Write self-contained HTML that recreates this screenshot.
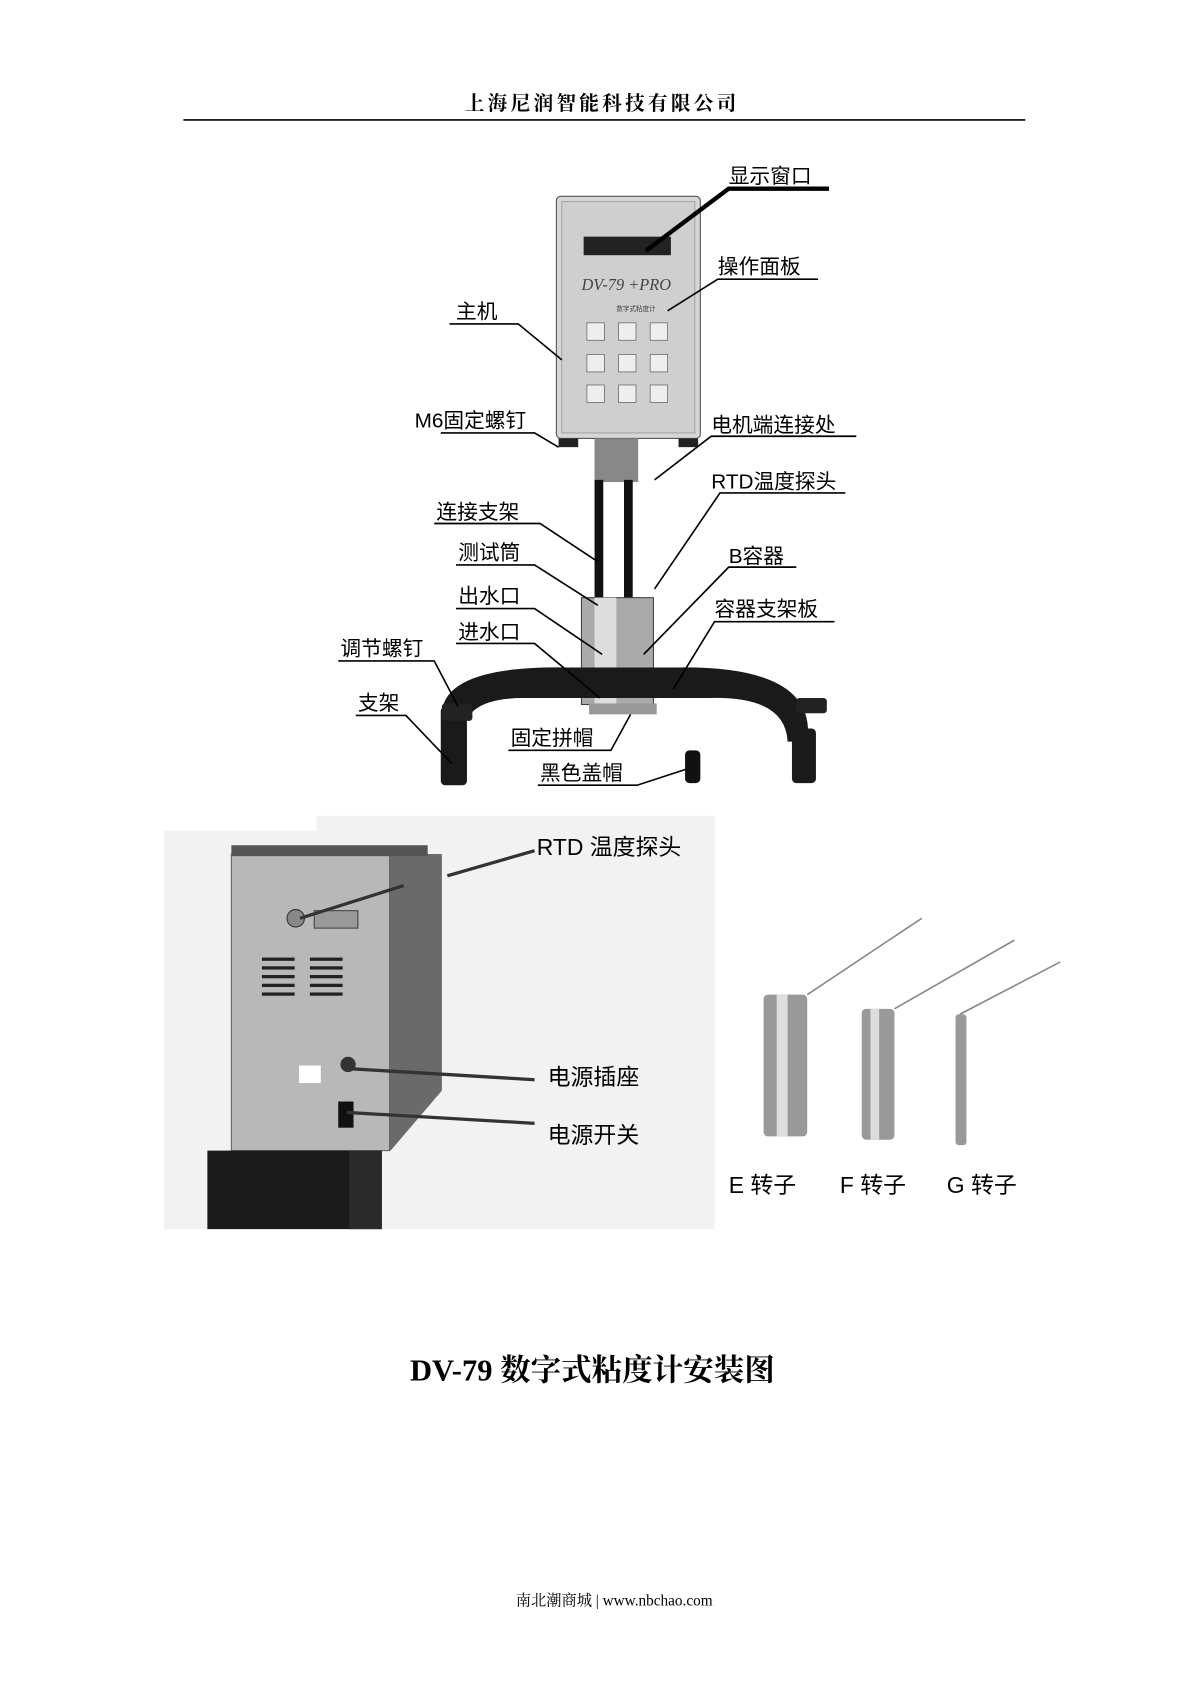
<!DOCTYPE html>
<html><head><meta charset="utf-8"><style>
html,body{margin:0;padding:0;background:#fff;}
svg{display:block;}
text{font-family:"Liberation Sans","Noto Sans CJK SC",sans-serif;}
.s{font-family:"Liberation Serif","Noto Serif CJK SC",serif;}
</style></head><body>
<svg width="1200" height="1697" viewBox="0 0 1100 1556" xmlns="http://www.w3.org/2000/svg">
<rect width="1100" height="1556" fill="#fff"/>
<text x="552" y="101" text-anchor="middle" font-size="18" font-weight="bold" letter-spacing="3" class="s">上海尼润智能科技有限公司</text>
<line x1="168" y1="110" x2="940" y2="110" stroke="#000" stroke-width="1.5"/>

<!-- main device -->
<rect x="510" y="180" width="132" height="222" rx="4" fill="#d6d6d6" stroke="#555"/>
<rect x="515" y="185" width="122" height="212" fill="#cfcfcf" stroke="#888" stroke-width="0.6"/>
<rect x="535" y="217" width="80" height="17" fill="#222"/>
<text x="533" y="266" font-size="15" font-style="italic" fill="#444" class="s">DV-79 +PRO</text>
<text x="565" y="285" font-size="6" fill="#444">数字式粘度计</text>
<g fill="#eee" stroke="#666" stroke-width="0.7">
<rect x="538" y="296" width="16" height="16"/><rect x="567" y="296" width="16" height="16"/><rect x="596" y="296" width="16" height="16"/>
<rect x="538" y="325" width="16" height="16"/><rect x="567" y="325" width="16" height="16"/><rect x="596" y="325" width="16" height="16"/>
<rect x="538" y="353" width="16" height="16"/><rect x="567" y="353" width="16" height="16"/><rect x="596" y="353" width="16" height="16"/>
</g>
<rect x="512" y="402" width="18" height="8" fill="#222"/><rect x="622" y="402" width="18" height="8" fill="#222"/>
<rect x="545" y="402" width="40" height="40" fill="#888"/>
<rect x="545" y="440" width="8" height="112" fill="#111"/><rect x="572" y="440" width="8" height="112" fill="#111"/>
<rect x="533" y="548" width="66" height="98" fill="#aaa" stroke="#444"/>
<rect x="545" y="548" width="20" height="98" fill="#ddd"/>
<path d="M405 660 Q400 610 520 612 L620 612 Q750 610 740 680 L722 680 Q720 638 650 640 L480 640 Q420 640 425 680 Z" fill="#1a1a1a"/>
<rect x="404" y="648" width="24" height="72" rx="4" fill="#1a1a1a"/>
<rect x="726" y="668" width="22" height="50" rx="4" fill="#1a1a1a"/>
<rect x="730" y="640" width="28" height="14" rx="3" fill="#222"/>
<rect x="405" y="645" width="28" height="16" rx="3" fill="#222"/>
<rect x="628" y="688" width="14" height="30" rx="4" fill="#111"/>
<rect x="540" y="645" width="62" height="10" fill="#999"/>

<g font-size="19" fill="#000">
<text x="668" y="168">显示窗口</text>
<text x="658" y="251">操作面板</text>
<text x="418" y="292">主机</text>
<text x="380" y="392">M6固定螺钉</text>
<text x="652" y="396">电机端连接处</text>
<text x="652" y="448">RTD温度探头</text>
<text x="400" y="476">连接支架</text>
<text x="420" y="513">测试筒</text>
<text x="668" y="516">B容器</text>
<text x="420" y="553">出水口</text>
<text x="655" y="565">容器支架板</text>
<text x="420" y="586">进水口</text>
<text x="312" y="601">调节螺钉</text>
<text x="328" y="651">支架</text>
<text x="468" y="683">固定拼帽</text>
<text x="495" y="715">黑色盖帽</text>
</g>
<g stroke="#000" stroke-width="1.5" fill="none">
<polyline points="760,173 668,173 592,230" stroke-width="4"/>
<polyline points="750,256 658,256 612,285"/>
<polyline points="412,297 475,297 515,330"/>
<polyline points="404,397 490,397 512,410"/>
<polyline points="785,400 652,400 600,440"/>
<polyline points="775,452 660,452 600,540"/>
<polyline points="398,480 495,480 548,515"/>
<polyline points="418,518 490,518 548,555"/>
<polyline points="730,520 668,520 590,600"/>
<polyline points="418,558 490,558 552,600"/>
<polyline points="765,570 655,570 617,632"/>
<polyline points="418,590 490,590 550,640"/>
<polyline points="310,606 398,606 420,648"/>
<polyline points="326,656 372,656 414,700"/>
<polyline points="466,688 560,688 578,655"/>
<polyline points="493,720 584,720 630,705"/>
</g>

<!-- back photo -->
<rect x="150" y="748" width="505" height="379" fill="#f2f2f2"/>
<rect x="150" y="748" width="140" height="14" fill="#fff"/>
<path d="M345 783 L405 783 L405 1000 L358 1055 L345 1055 Z" fill="#6a6a6a"/>
<rect x="212" y="783" width="145" height="272" fill="#b8b8b8" stroke="#666"/>
<rect x="212" y="775" width="180" height="10" fill="#555"/>
<rect x="190" y="1055" width="160" height="72" fill="#1a1a1a"/>
<rect x="320" y="1055" width="30" height="72" fill="#2a2a2a"/>
<circle cx="271" cy="842" r="8" fill="#888" stroke="#333"/>
<rect x="288" y="835" width="40" height="16" fill="#999" stroke="#444"/>
<g fill="#222"><rect x="240" y="878" width="30" height="3"/><rect x="240" y="886" width="30" height="3"/><rect x="240" y="894" width="30" height="3"/><rect x="240" y="902" width="30" height="3"/><rect x="240" y="910" width="30" height="3"/>
<rect x="284" y="878" width="30" height="3"/><rect x="284" y="886" width="30" height="3"/><rect x="284" y="894" width="30" height="3"/><rect x="284" y="902" width="30" height="3"/><rect x="284" y="910" width="30" height="3"/></g>
<rect x="274" y="977" width="20" height="16" fill="#fff"/>
<circle cx="319" cy="976" r="7" fill="#333"/>
<rect x="310" y="1010" width="14" height="24" fill="#111"/>
<g stroke="#333" stroke-width="3"><line x1="410" y1="803" x2="490" y2="780"/><line x1="275" y1="842" x2="370" y2="812"/><line x1="322" y1="980" x2="490" y2="990"/><line x1="318" y1="1020" x2="490" y2="1030"/></g>
<g font-size="21" class="s"><text x="492" y="784">RTD 温度探头</text><text x="502" y="995">电源插座</text><text x="502" y="1048">电源开关</text>
<text x="668" y="1094">E 转子</text><text x="770" y="1094">F 转子</text><text x="868" y="1094">G 转子</text></g>
<!-- rotors -->
<g stroke="#888" stroke-width="1.5"><line x1="740" y1="912" x2="845" y2="842"/><line x1="820" y1="925" x2="930" y2="862"/><line x1="880" y1="930" x2="972" y2="882"/></g>
<rect x="700" y="912" width="40" height="130" rx="4" fill="#999"/><rect x="712" y="912" width="10" height="130" fill="#ddd"/>
<rect x="790" y="925" width="30" height="120" rx="4" fill="#999"/><rect x="798" y="925" width="8" height="120" fill="#ddd"/>
<rect x="876" y="930" width="10" height="120" rx="3" fill="#999"/>

<text x="543" y="1266" text-anchor="middle" font-size="28" font-weight="bold" class="s">DV-79 数字式粘度计安装图</text>
<text x="563" y="1472" text-anchor="middle" font-size="14" class="s">南北潮商城 | www.nbchao.com</text>
</svg>
</body></html>
